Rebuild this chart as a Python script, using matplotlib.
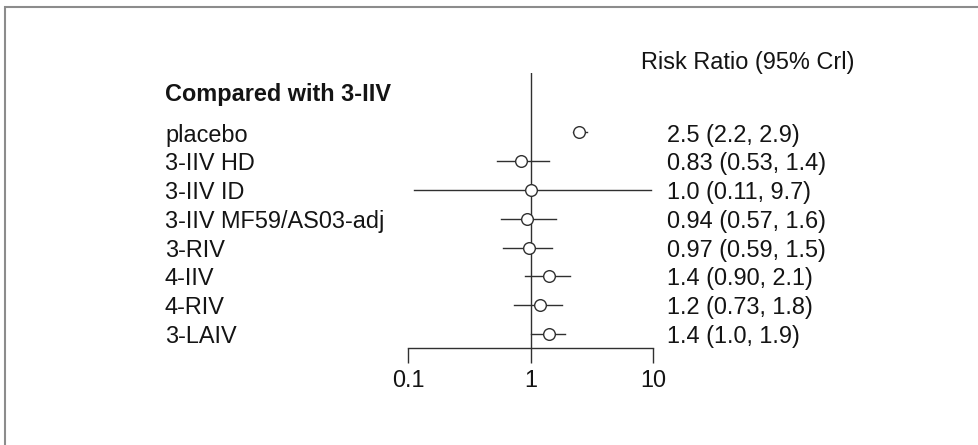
import matplotlib
matplotlib.use("Agg")
import matplotlib.pyplot as plt
from matplotlib.patches import Rectangle
from matplotlib.transforms import blended_transform_factory, ScaledTranslation

# Network meta-analysis results: risk ratio versus 3-IIV with 95% credible interval
treatments = ["placebo", "3-IIV HD", "3-IIV ID", "3-IIV MF59/AS03-adj",
              "3-RIV", "4-IIV", "4-RIV", "3-LAIV"]
rr = [2.5, 0.83, 1.0, 0.94, 0.97, 1.4, 1.2, 1.4]
lower = [2.2, 0.53, 0.11, 0.57, 0.59, 0.90, 0.73, 1.0]
upper = [2.9, 1.4, 9.7, 1.6, 1.5, 2.1, 1.8, 1.9]
rr_text = ["2.5", "0.83", "1.0", "0.94", "0.97", "1.4", "1.2", "1.4"]
lower_text = ["2.2", "0.53", "0.11", "0.57", "0.59", "0.90", "0.73", "1.0"]
upper_text = ["2.9", "1.4", "9.7", "1.6", "1.5", "2.1", "1.8", "1.9"]
x_ticks = [0.1, 1, 10]
x_ticklabels = ["0.1", "1", "10"]

W, H = 979, 445
plt.rcParams["font.family"] = ["Liberation Sans", "DejaVu Sans"]
line_col = "#303030"
text_col = "#141414"
fs = 16.9

fig = plt.figure(figsize=(W / 100, H / 100), dpi=100)
fig.patch.set_facecolor("white")

# panel frame (open on the right and bottom)
fig.add_artist(Rectangle((5 / W, -0.2), 1.5, 1.2 - 7 / H,
                         transform=fig.transFigure, fill=False,
                         edgecolor="#8c8c8c", linewidth=1.5, clip_on=False))

ax = fig.add_axes([408.5 / W, (H - 348) / H, 244.5 / W, 275 / H])
ax.set_xscale("log")
ax.set_xlim(0.1, 10)
ax.set_ylim(7.49, -2.06)
ax.patch.set_visible(False)

for s in ("top", "left", "right"):
    ax.spines[s].set_visible(False)
ax.spines["bottom"].set_bounds(0.1, 10)
ax.spines["bottom"].set_color(line_col)
ax.spines["bottom"].set_linewidth(1.0)
ax.set_yticks([])
ax.set_xticks(x_ticks)
ax.set_xticklabels(x_ticklabels)
ax.minorticks_off()
ax.tick_params(axis="x", direction="out", length=10.8, width=1.0,
               color=line_col, pad=4.0, labelsize=fs, labelcolor=text_col)

# line of no effect
ax.axvline(1, color=line_col, linewidth=1.0, zorder=1)

rows = list(range(len(treatments)))
for i in rows:
    ax.plot([lower[i], upper[i]], [i, i], color=line_col, linewidth=1.0,
            zorder=2, clip_on=False)
ax.plot(rr, rows, linestyle="none", marker="o", markersize=8.4,
        markerfacecolor="white", markeredgecolor=line_col,
        markeredgewidth=1.0, zorder=3, clip_on=False)

# row labels and estimates
tr = blended_transform_factory(fig.transFigure, ax.transData)
down = ScaledTranslation(0, -9.2 / 100, fig.dpi_scale_trans)
for i in rows:
    ax.text(165 / W, i, treatments[i], transform=tr + down, va="baseline",
            ha="left", fontsize=fs, color=text_col)
    ax.text(667 / W, i, f"{rr_text[i]} ({lower_text[i]}, {upper_text[i]})",
            transform=tr + down, va="baseline", ha="left", fontsize=fs,
            color=text_col)

fig.text(165 / W, 1 - 101 / H, "Compared with 3-IIV", fontsize=fs,
         fontweight="bold", va="baseline", ha="left", color=text_col)
fig.text(641 / W, 1 - 69.5 / H, "Risk Ratio (95% Crl)", fontsize=fs,
         va="baseline", ha="left", color=text_col)

fig.savefig("out.png", dpi=100, facecolor="white")
